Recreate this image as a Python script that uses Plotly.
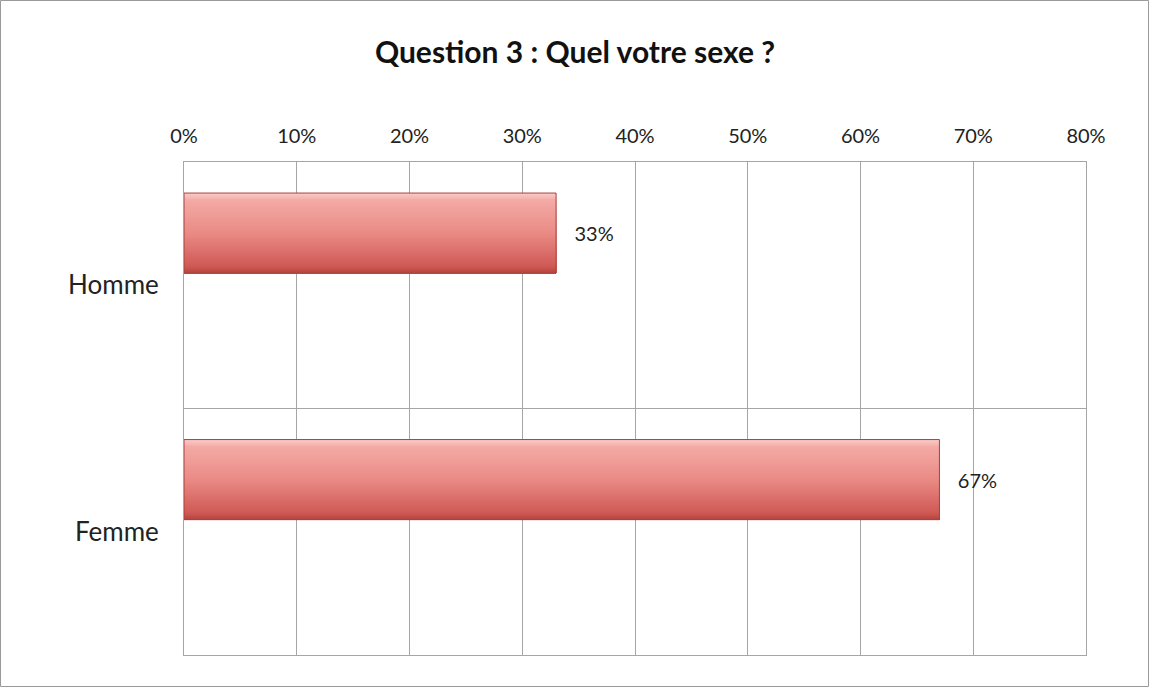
import plotly.graph_objects as go

categories = ["Homme", "Femme"]
values = [0.33, 0.67]
value_labels = ["33%", "67%"]
x_ticks = [0, 0.1, 0.2, 0.3, 0.4, 0.5, 0.6, 0.7, 0.8]
x_tick_labels = ["0%", "10%", "20%", "30%", "40%", "50%", "60%", "70%", "80%"]
title_text = "Question 3 : Quel votre sexe ?"

FONT = "Lato, Carlito, 'Open Sans', sans-serif"

fig = go.Figure()

bar_offset = -0.374
bar_width = 0.325
bar_end = bar_offset + bar_width
n_slices = 40
stops = [(0.0, (250, 200, 196)), (0.08, (244, 170, 165)), (0.5, (234, 138, 133)),
         (0.92, (208, 90, 86)), (1.0, (185, 70, 66))]


def color_at(t):
    for (t0, c0), (t1, c1) in zip(stops[:-1], stops[1:]):
        if t0 <= t <= t1:
            f = (t - t0) / (t1 - t0) if t1 > t0 else 0
            return tuple(int(round(c0[k] + (c1[k] - c0[k]) * f)) for k in range(3))
    return stops[-1][1]


slice_w = bar_width / n_slices
for i in range(n_slices):
    t = i / (n_slices - 1)
    c = color_at(t)
    start = bar_offset + i * slice_w
    fig.add_trace(go.Bar(
        y=categories, x=values, orientation="h",
        offset=start, width=bar_end - start,
        marker=dict(color="rgb(%d,%d,%d)" % c, line=dict(width=0)),
        showlegend=False, hoverinfo="skip",
    ))

# outline + data labels
fig.add_trace(go.Bar(
    y=categories, x=values, orientation="h",
    offset=bar_offset, width=bar_width,
    marker=dict(color="rgba(0,0,0,0)", line=dict(color="#a8423e", width=1)),
    text=["   " + s for s in value_labels], textposition="outside",
    textfont=dict(family=FONT, size=20, color="#222222"),
    cliponaxis=False, showlegend=False, hoverinfo="skip",
))

fig.update_layout(
    width=1150, height=687,
    barmode="overlay",
    paper_bgcolor="white", plot_bgcolor="white",
    margin=dict(l=184, r=64, t=162, b=32),
    title=dict(text="<b>" + title_text + "</b>", x=0.5, xref="container", xanchor="center",
               y=1 - 52 / 687, yanchor="middle",
               font=dict(family=FONT, size=30, color="#111111")),
    font=dict(family=FONT, color="#222222"),
    xaxis=dict(
        side="top", range=[0, 0.8], tickvals=x_ticks, ticktext=x_tick_labels,
        showgrid=True, gridcolor="#a6a6a6", gridwidth=1,
        showline=True, linecolor="#a6a6a6", linewidth=1, mirror=True,
        zeroline=False, ticks="", tickfont=dict(family=FONT, size=20, color="#222222"),
        ticklabelstandoff=10,
    ),
    yaxis=dict(
        categoryorder="array", categoryarray=categories, range=[1.5, -0.5],
        tickson="boundaries", showgrid=True, gridcolor="#a6a6a6", gridwidth=1,
        showline=True, linecolor="#a6a6a6", linewidth=1, mirror=True,
        zeroline=False, ticks="", tickfont=dict(family=FONT, size=26, color="#222222"),
        ticklabelstandoff=19,
    ),
    shapes=[dict(
        type="rect", xref="paper", yref="paper",
        x0=(0.5 - 184) / 902, x1=(1148.5 - 184) / 902,
        y0=(655 - 686.5) / 493, y1=(655 - 0.5) / 493,
        line=dict(color="#9a9a9a", width=1), fillcolor="rgba(0,0,0,0)", layer="below",
    )],
)

fig.write_html("out.html", config={"displayModeBar": False},
               post_script="document.body.style.margin='0px';")
